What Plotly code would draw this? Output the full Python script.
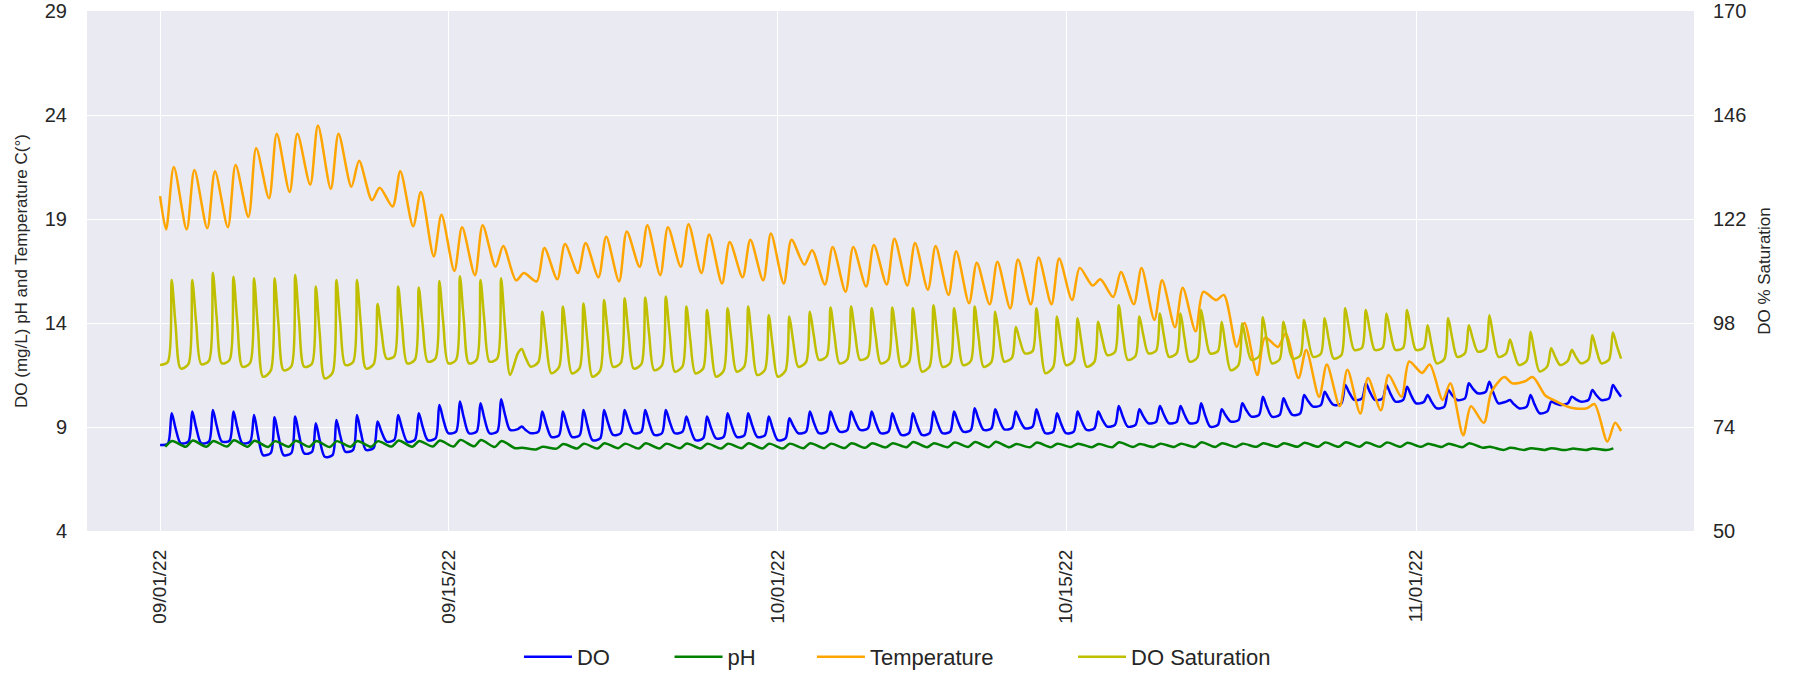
import pandas as pd
import plotly.graph_objects as go

# ---------------- data ----------------
START_DATE = "2022-09-01"
N_DAYS = 71

# Temperature (deg C): start value, daily morning low (07:00), afternoon high (16:00), last value
TEMP_START = 20.1
TEMP_LOW = [18.5, 18.5, 18.55, 18.6, 19.1, 20.0, 20.3, 20.65, 20.45, 20.55,
            19.9, 19.6, 18.65, 17.2, 16.5, 16.3, 16.7, 16.05, 16.0, 16.1,
            16.4, 16.2, 16.0, 16.7, 16.3, 16.7, 16.4, 15.9, 16.2, 16.05,
            15.9, 16.8, 15.85, 15.5, 15.75, 15.85, 15.8, 15.6, 15.35, 14.95,
            14.9, 14.7, 14.9, 14.9, 15.1, 15.8, 15.25, 14.9, 14.15, 13.8,
            13.6, 15.1, 12.85, 11.5, 12.85, 11.35, 10.45, 10.0, 9.65, 9.8,
            10.45, 11.6, 10.3, 8.6, 9.2, 11.4, 11.2, 10.5, 10.0, 9.9, 8.3]
TEMP_HIGH = [21.5, 21.35, 21.3, 21.6, 22.4, 23.1, 23.1, 23.5, 23.1, 21.8,
             20.5, 21.3, 20.3, 19.2, 18.6, 18.7, 17.7, 16.4, 17.6, 17.8,
             17.85, 18.15, 18.4, 18.7, 18.6, 18.75, 18.25, 17.9, 18.0, 18.3,
             18.0, 17.5, 17.65, 17.65, 17.75, 18.05, 17.85, 17.7, 17.45, 16.9,
             16.95, 17.05, 17.15, 17.1, 16.65, 16.1, 16.45, 16.65, 16.05, 15.7,
             15.5, 15.35, 14.0, 13.3, 13.5, 12.7, 12.0, 11.75, 11.35, 11.5,
             12.15, 12.0, 11.1, 10.0, 10.7, 11.1, 11.4, 10.3, 9.9, 10.1, 9.2]
TEMP_END = 8.8

# DO saturation (%): readings at 00:00, 09:00, 13:30 and 18:00 of each day
SAT_NIGHT = [88.3, 87.5, 88.5, 88.7, 87.9, 85.6, 87.1, 87.9, 85.2, 88.3,
             87.5, 89.8, 88.7, 89.1, 88.7, 88.7, 89.1, 86.0, 87.9, 86.4,
             86.4, 85.6, 87.9, 87.5, 87.1, 86.8, 86.4, 85.6, 86.8, 86.0,
             85.6, 87.9, 89.5, 88.7, 89.5, 88.7, 87.9, 86.8, 87.9, 88.3,
             87.9, 89.1, 91.0, 86.4, 88.3, 87.9, 90.6, 89.5, 91.0, 90.2,
             89.1, 91.0, 87.1, 89.5, 88.7, 89.8, 90.2, 89.8, 91.8, 91.8,
             91.8, 91.8, 88.7, 90.2, 91.4, 90.2, 88.3, 86.8, 88.3, 88.7, 88.7]
SAT_MORNING = [89.0, 88.5, 89.3, 89.5, 88.8, 87.0, 88.0, 88.6, 86.5, 89.0,
               88.5, 90.3, 89.5, 89.8, 89.5, 89.5, 89.8, 91.0, 89.0, 87.8,
               87.6, 87.0, 88.8, 88.5, 88.2, 88.0, 87.5, 87.0, 88.0, 87.2,
               87.0, 89.0, 90.3, 89.6, 90.2, 89.6, 89.0, 88.0, 88.8, 89.2,
               89.0, 90.0, 91.5, 87.8, 89.3, 89.0, 91.3, 90.4, 91.6, 91.0,
               90.0, 91.5, 88.3, 90.3, 89.6, 90.5, 90.9, 90.6, 92.3, 92.3,
               92.3, 92.3, 89.7, 91.0, 92.0, 91.0, 89.3, 88.0, 89.3, 89.6, 89.6]
SAT_PEAK = [107.9, 107.9, 109.6, 108.7, 108.3, 108.3, 109.1, 106.4, 107.9, 107.9,
            102.4, 106.4, 106.2, 107.7, 108.8, 107.9, 108.3, 92.0, 100.6, 101.8,
            102.5, 103.3, 103.7, 103.9, 104.1, 101.8, 101.0, 101.4, 101.8, 99.8,
            99.5, 100.6, 101.6, 101.8, 101.4, 101.6, 101.4, 102.1, 101.4, 101.8,
            100.6, 97.1, 101.4, 99.5, 99.1, 98.3, 102.1, 99.5, 100.2, 100.2,
            101.0, 98.3, 97.9, 99.3, 98.3, 98.7, 99.1, 101.4, 101.0, 100.2,
            101.0, 97.5, 99.1, 97.5, 99.8, 94.2, 96.0, 92.2, 91.8, 95.2, 95.8]
SAT_EVENING = [97.7, 98.2, 99.2, 98.3, 97.0, 97.7, 98.5, 95.8, 98.1, 97.7,
               96.1, 97.6, 97.7, 98.2, 98.8, 98.5, 97.2, 90.0, 93.5, 94.1,
               94.1, 95.6, 95.6, 95.5, 95.5, 94.1, 93.3, 94.1, 93.9, 92.7,
               93.7, 95.1, 95.2, 95.7, 95.1, 94.8, 94.1, 95.0, 94.9, 94.9,
               94.9, 94.1, 93.9, 93.9, 93.5, 94.5, 95.8, 95.3, 95.2, 94.7,
               96.0, 92.7, 93.7, 94.0, 94.1, 94.5, 94.5, 96.6, 96.4, 96.0,
               96.4, 93.1, 94.7, 94.5, 95.0, 91.3, 91.4, 90.3, 90.3, 92.0, 92.8]
SAT_END = 89.8

# DO (mg/L): readings at 00:00, 09:00, 13:30 and 18:00 of each day
DO_NIGHT = [8.13, 8.22, 8.22, 8.3, 8.22, 7.65, 7.65, 7.73, 7.57, 7.81,
            7.9, 8.3, 8.3, 8.37, 8.7, 8.7, 8.7, 8.86, 8.7, 8.53,
            8.53, 8.37, 8.62, 8.7, 8.62, 8.7, 8.37, 8.45, 8.53, 8.53,
            8.37, 8.7, 8.7, 8.78, 8.86, 8.7, 8.62, 8.62, 8.7, 8.78,
            8.86, 8.89, 8.94, 8.7, 8.7, 8.86, 9.02, 9.02, 9.18, 9.18,
            9.18, 9.02, 9.26, 9.5, 9.5, 9.58, 9.98, 10.06, 10.3, 10.3,
            10.22, 10.14, 9.9, 10.3, 10.62, 10.14, 9.9, 9.66, 10.06, 10.22, 10.3]
DO_MORNING = [8.2, 8.3, 8.3, 8.35, 8.3, 7.75, 7.75, 7.8, 7.65, 7.9,
              8.0, 8.38, 8.38, 8.45, 8.78, 8.78, 8.78, 8.9, 8.78, 8.6,
              8.6, 8.45, 8.7, 8.78, 8.7, 8.78, 8.45, 8.53, 8.6, 8.6,
              8.45, 8.78, 8.78, 8.85, 8.93, 8.78, 8.7, 8.7, 8.78, 8.85,
              8.93, 8.96, 9.02, 8.78, 8.78, 8.93, 9.1, 9.1, 9.25, 9.25,
              9.25, 9.1, 9.33, 9.58, 9.58, 9.66, 10.05, 10.14, 10.38, 10.38,
              10.3, 10.2, 9.98, 10.38, 10.68, 10.22, 9.98, 9.75, 10.14, 10.3, 10.38]
DO_PEAK = [9.66, 9.74, 9.82, 9.74, 9.58, 9.47, 9.5, 9.18, 9.34, 9.58,
           9.26, 9.58, 9.66, 10.06, 10.22, 10.14, 10.33, 9.02, 9.74, 9.74,
           9.82, 9.82, 9.82, 9.82, 9.82, 9.5, 9.5, 9.66, 9.66, 9.5,
           9.42, 9.74, 9.74, 9.74, 9.74, 9.66, 9.66, 9.74, 9.74, 9.9,
           9.85, 9.74, 9.85, 9.66, 9.74, 9.74, 10.01, 9.85, 10.01, 10.01,
           10.14, 9.85, 10.14, 10.45, 10.38, 10.54, 10.7, 11.02, 11.1, 11.02,
           10.94, 10.54, 10.78, 11.1, 11.18, 10.3, 10.54, 10.22, 10.46, 10.78, 11.02]
DO_EVENING = [8.94, 8.98, 9.06, 8.98, 8.62, 8.56, 8.62, 8.38, 8.58, 8.74,
              8.78, 8.94, 9.02, 9.38, 9.46, 9.42, 9.6, 8.86, 9.14, 9.14,
              9.1, 9.22, 9.26, 9.22, 9.26, 8.94, 8.98, 9.1, 9.1, 8.94,
              9.06, 9.22, 9.26, 9.3, 9.22, 9.14, 9.14, 9.22, 9.26, 9.38,
              9.37, 9.34, 9.28, 9.18, 9.3, 9.38, 9.52, 9.52, 9.6, 9.6,
              9.58, 9.56, 9.82, 9.98, 9.98, 10.26, 10.38, 10.66, 10.7, 10.62,
              10.54, 10.22, 10.54, 10.86, 10.66, 10.1, 10.1, 10.14, 10.34, 10.54, 10.74]
DO_END = 10.46

# pH: 06:00 base and 14:00 peak per day
PH_BASE = [8.05, 8.05, 8.05, 8.06, 8.05, 8.04, 8.05, 8.05, 8.04, 8.05,
           8.05, 8.06, 8.05, 8.06, 8.06, 8.07, 8.04, 7.98, 7.92, 7.96,
           7.97, 7.97, 7.98, 7.97, 7.97, 7.98, 7.97, 7.97, 7.98, 7.97,
           7.97, 7.98, 7.98, 7.99, 8.0, 8.02, 8.03, 8.03, 8.03, 8.04,
           8.03, 8.03, 8.03, 8.03, 8.04, 8.03, 8.03, 8.04, 8.04, 8.04,
           8.04, 8.04, 8.04, 8.05, 8.05, 8.05, 8.05, 8.05, 8.05, 8.05,
           8.05, 8.05, 8.04, 8.03, 8.0, 7.9, 7.9, 7.9, 7.89, 7.89, 7.89]
PH_PEAK = [8.33, 8.35, 8.33, 8.36, 8.34, 8.32, 8.34, 8.33, 8.32, 8.33,
           8.32, 8.35, 8.33, 8.35, 8.38, 8.37, 8.33, 8.0, 8.05, 8.18,
           8.2, 8.22, 8.2, 8.22, 8.2, 8.21, 8.2, 8.2, 8.22, 8.2,
           8.2, 8.22, 8.2, 8.22, 8.22, 8.22, 8.28, 8.22, 8.26, 8.28,
           8.29, 8.18, 8.25, 8.2, 8.2, 8.18, 8.27, 8.18, 8.2, 8.2,
           8.27, 8.22, 8.2, 8.22, 8.22, 8.24, 8.26, 8.27, 8.25, 8.26,
           8.24, 8.2, 8.2, 8.22, 8.05, 8.0, 7.98, 7.98, 7.96, 7.97, 7.97]

DATE_TICKS = ["2022-09-01", "2022-09-15", "2022-10-01", "2022-10-15", "2022-11-01"]
LEFT_TICKS = [4, 9, 14, 19, 24, 29]
RIGHT_TICKS = [50, 74, 98, 122, 146, 170]

# sampling schedule (hours of the day at which the values above were read)
TEMP_HOURS = [7, 16]
DO_HOURS = [0, 9, 13.5, 18]
PH_HOURS = [6, 14]
END_HOUR = 23

# ---------------- build series ----------------
day0 = pd.Timestamp(START_DATE)
days = [day0 + pd.Timedelta(days=d) for d in range(N_DAYS)]
t_end = days[-1] + pd.Timedelta(hours=END_HOUR)


def build(hours, cols, first=None, last=None):
    xs, ys = [], []
    if first is not None:
        xs.append(day0)
        ys.append(first)
    for i, d in enumerate(days):
        for h, col in zip(hours, cols):
            xs.append(d + pd.Timedelta(hours=h))
            ys.append(col[i])
    if last is not None:
        xs.append(t_end)
        ys.append(last)
    return xs, ys


do_x, do_y = build(DO_HOURS, [DO_NIGHT, DO_MORNING, DO_PEAK, DO_EVENING], last=DO_END)
ph_x, ph_y = build(PH_HOURS, [PH_BASE, PH_PEAK])
t_x, t_y = build(TEMP_HOURS, [TEMP_LOW, TEMP_HIGH], first=TEMP_START, last=TEMP_END)
s_x, s_y = build(DO_HOURS, [SAT_NIGHT, SAT_MORNING, SAT_PEAK, SAT_EVENING], last=SAT_END)

FONT = "Liberation Sans, Arial, sans-serif"
TXT = "#262626"

fig = go.Figure()
specs = [
    ("DO", do_x, do_y, "#0000ff", "y", "legend"),
    ("pH", ph_x, ph_y, "#008000", "y", "legend2"),
    ("Temperature", t_x, t_y, "#ffa500", "y", "legend3"),
    ("DO Saturation", s_x, s_y, "#bfbf00", "y2", "legend4"),
]
for name, xs, ys, col, yax, leg in specs:
    fig.add_trace(go.Scatter(
        x=xs, y=ys, name=name, mode="lines", yaxis=yax, legend=leg,
        line=dict(color=col, width=2.5, shape="spline", smoothing=0.8),
        hoverinfo="skip",
    ))

leg_common = dict(orientation="h", yanchor="middle", y=-0.242, xanchor="left",
                  bgcolor="rgba(0,0,0,0)", font=dict(family=FONT, size=22, color=TXT),
                  itemwidth=48)

fig.update_layout(
    width=1797, height=674,
    margin=dict(l=87, r=103, t=11, b=143, autoexpand=False),
    paper_bgcolor="white", plot_bgcolor="#eaeaf2",
    font=dict(family=FONT, size=20, color=TXT),
    showlegend=True,
    legend=dict(leg_common, x=0.2688),
    legend2=dict(leg_common, x=0.3625),
    legend3=dict(leg_common, x=0.4511),
    legend4=dict(leg_common, x=0.6136),
    xaxis=dict(
        range=["2022-08-28 10:48", "2022-11-14 12:00"],
        tickvals=DATE_TICKS, tickformat="%m/%d/%y", tickangle=-90,
        showgrid=True, gridcolor="white", gridwidth=1.3, automargin=False,
        zeroline=False, showline=False, ticks="", ticklabelstandoff=14,
        tickfont=dict(size=19, color=TXT),
    ),
    yaxis=dict(
        range=[4, 29], tickvals=LEFT_TICKS, automargin=False,
        showgrid=True, gridcolor="white", gridwidth=1.3,
        zeroline=False, showline=False, ticks="", ticklabelstandoff=19,
        tickfont=dict(size=20, color=TXT),
        title=dict(text="DO (mg/L) pH and Temperature C(°)", font=dict(size=17, color=TXT), standoff=12),
    ),
    yaxis2=dict(
        range=[50, 170], tickvals=RIGHT_TICKS, overlaying="y", side="right", automargin=False,
        showgrid=False, zeroline=False, showline=False, ticks="", ticklabelstandoff=18,
        tickfont=dict(size=20, color=TXT),
        title=dict(text="DO % Saturation", font=dict(size=17, color=TXT), standoff=12),
    ),
)

fig.write_html("out.html", config={"displayModeBar": False},
               post_script="document.body.style.margin='0';")
